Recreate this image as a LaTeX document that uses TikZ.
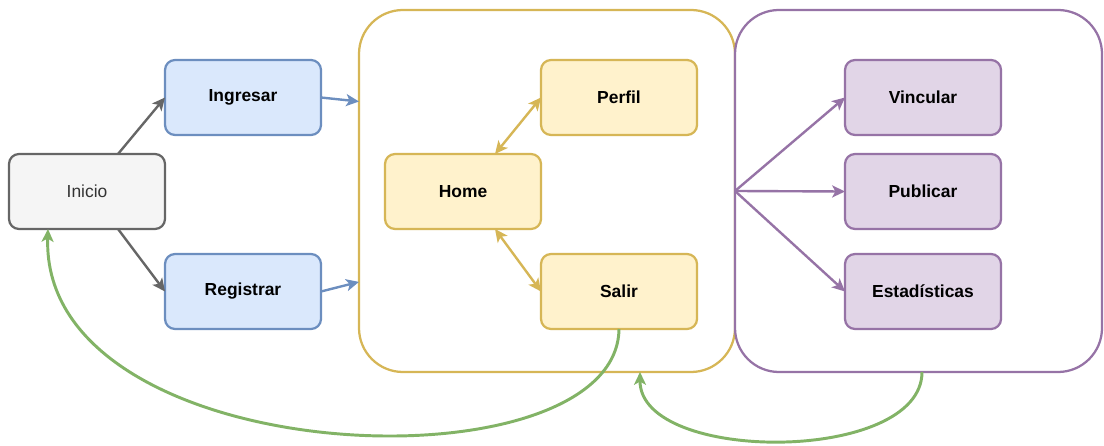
\documentclass[tikz,border=0pt]{standalone}
\usepackage{fontspec}
\setmainfont{Liberation Sans}
\usetikzlibrary{arrows.meta, positioning, calc}

\definecolor{grayfill}{HTML}{F5F5F5}
\definecolor{grayline}{HTML}{666666}
\definecolor{graytext}{HTML}{333333}
\definecolor{bluefill}{HTML}{DAE8FC}
\definecolor{blueline}{HTML}{6C8EBF}
\definecolor{yellowfill}{HTML}{FFF2CC}
\definecolor{yellowline}{HTML}{D6B656}
\definecolor{purplefill}{HTML}{E1D5E7}
\definecolor{purpleline}{HTML}{9673A6}
\definecolor{greenline}{HTML}{82B366}

\tikzstyle{box} = [rectangle, rounded corners=0.25cm, minimum width=3.9cm, minimum height=1.875cm, line width=1.6pt, outer sep=0pt, text centered, font=\fontsize{12.4}{14}\selectfont\bfseries]
\tikzstyle{start} = [box, draw=grayline, fill=grayfill, text=graytext, font=\fontsize{12.4}{14}\selectfont]
\tikzstyle{entry} = [box, draw=blueline, fill=bluefill]
\tikzstyle{screen} = [box, draw=yellowline, fill=yellowfill]
\tikzstyle{action} = [box, draw=purpleline, fill=purplefill]
\tikzstyle{group} = [rectangle, rounded corners=1.1cm, minimum height=9.05cm, line width=1.6pt, outer sep=0pt, fill=white]
\tikzstyle{arrow} = [line width=1.7pt, ->, >={Stealth[length=0.32cm, width=0.3cm, inset=0.08cm]}]
\tikzstyle{link} = [arrow, <->]
\tikzstyle{back} = [arrow, draw=greenline, line width=2.1pt]

\begin{document}
\begin{tikzpicture}[node distance=1cm]
	\useasboundingbox (0,0) rectangle (27.6,-11.15);

	\node (app) [group, draw=yellowline, minimum width=9.4cm] at (13.675,-4.775) {};
	\node (admin) [group, draw=purpleline, minimum width=9.175cm] at (22.9625,-4.775) {};

	\node (inicio) [start] at (2.175,-4.7875) {Inicio};
	\node (ingresar) [entry, above right=0.475cm and 0cm of inicio] {Ingresar};
	\node (registrar) [entry, below right=0.625cm and 0cm of inicio] {Registrar};
	\node (home) [screen, right=5.5cm of inicio] {Home};
	\node (perfil) [screen, above right=0.475cm and 0cm of home] {Perfil};
	\node (salir) [screen, below right=0.625cm and 0cm of home] {Salir};
	\node (publicar) [action, right=7.6cm of home] {Publicar};
	\node (vincular) [action, above=0.475cm of publicar] {Vincular};
	\node (estadisticas) [action, below=0.625cm of publicar] {Estadísticas};

	\draw [arrow, grayline] ([xshift=0.775cm]inicio.north) -- (ingresar.west);
	\draw [arrow, grayline] ([xshift=0.775cm]inicio.south) -- (registrar.west);
	\draw [arrow, blueline] (ingresar.east) -- ($(ingresar.east -| app.west)+(0,-0.1)$);
	\draw [arrow, blueline] (registrar.east) -- ($(registrar.east -| app.west)+(0,0.24)$);
	\draw [link, yellowline] ([xshift=0.8cm]home.north) -- (perfil.west);
	\draw [link, yellowline] ([xshift=0.8cm]home.south) -- (salir.west);
	\draw [arrow, purpleline] (admin.west) -- (vincular.west);
	\draw [arrow, purpleline] (admin.west) -- (publicar.west);
	\draw [arrow, purpleline] (admin.west) -- (estadisticas.west);

	\draw [back] (salir.south) .. controls +(-0.05,-4.1) and +(-0.2,-6.1) .. ([xshift=-0.975cm]inicio.south);
	\draw [back] ([xshift=0.0875cm]admin.south) .. controls +(0,-2.3) and +(0,-2.3) .. ([xshift=2.325cm]app.south);
\end{tikzpicture}
\end{document}
